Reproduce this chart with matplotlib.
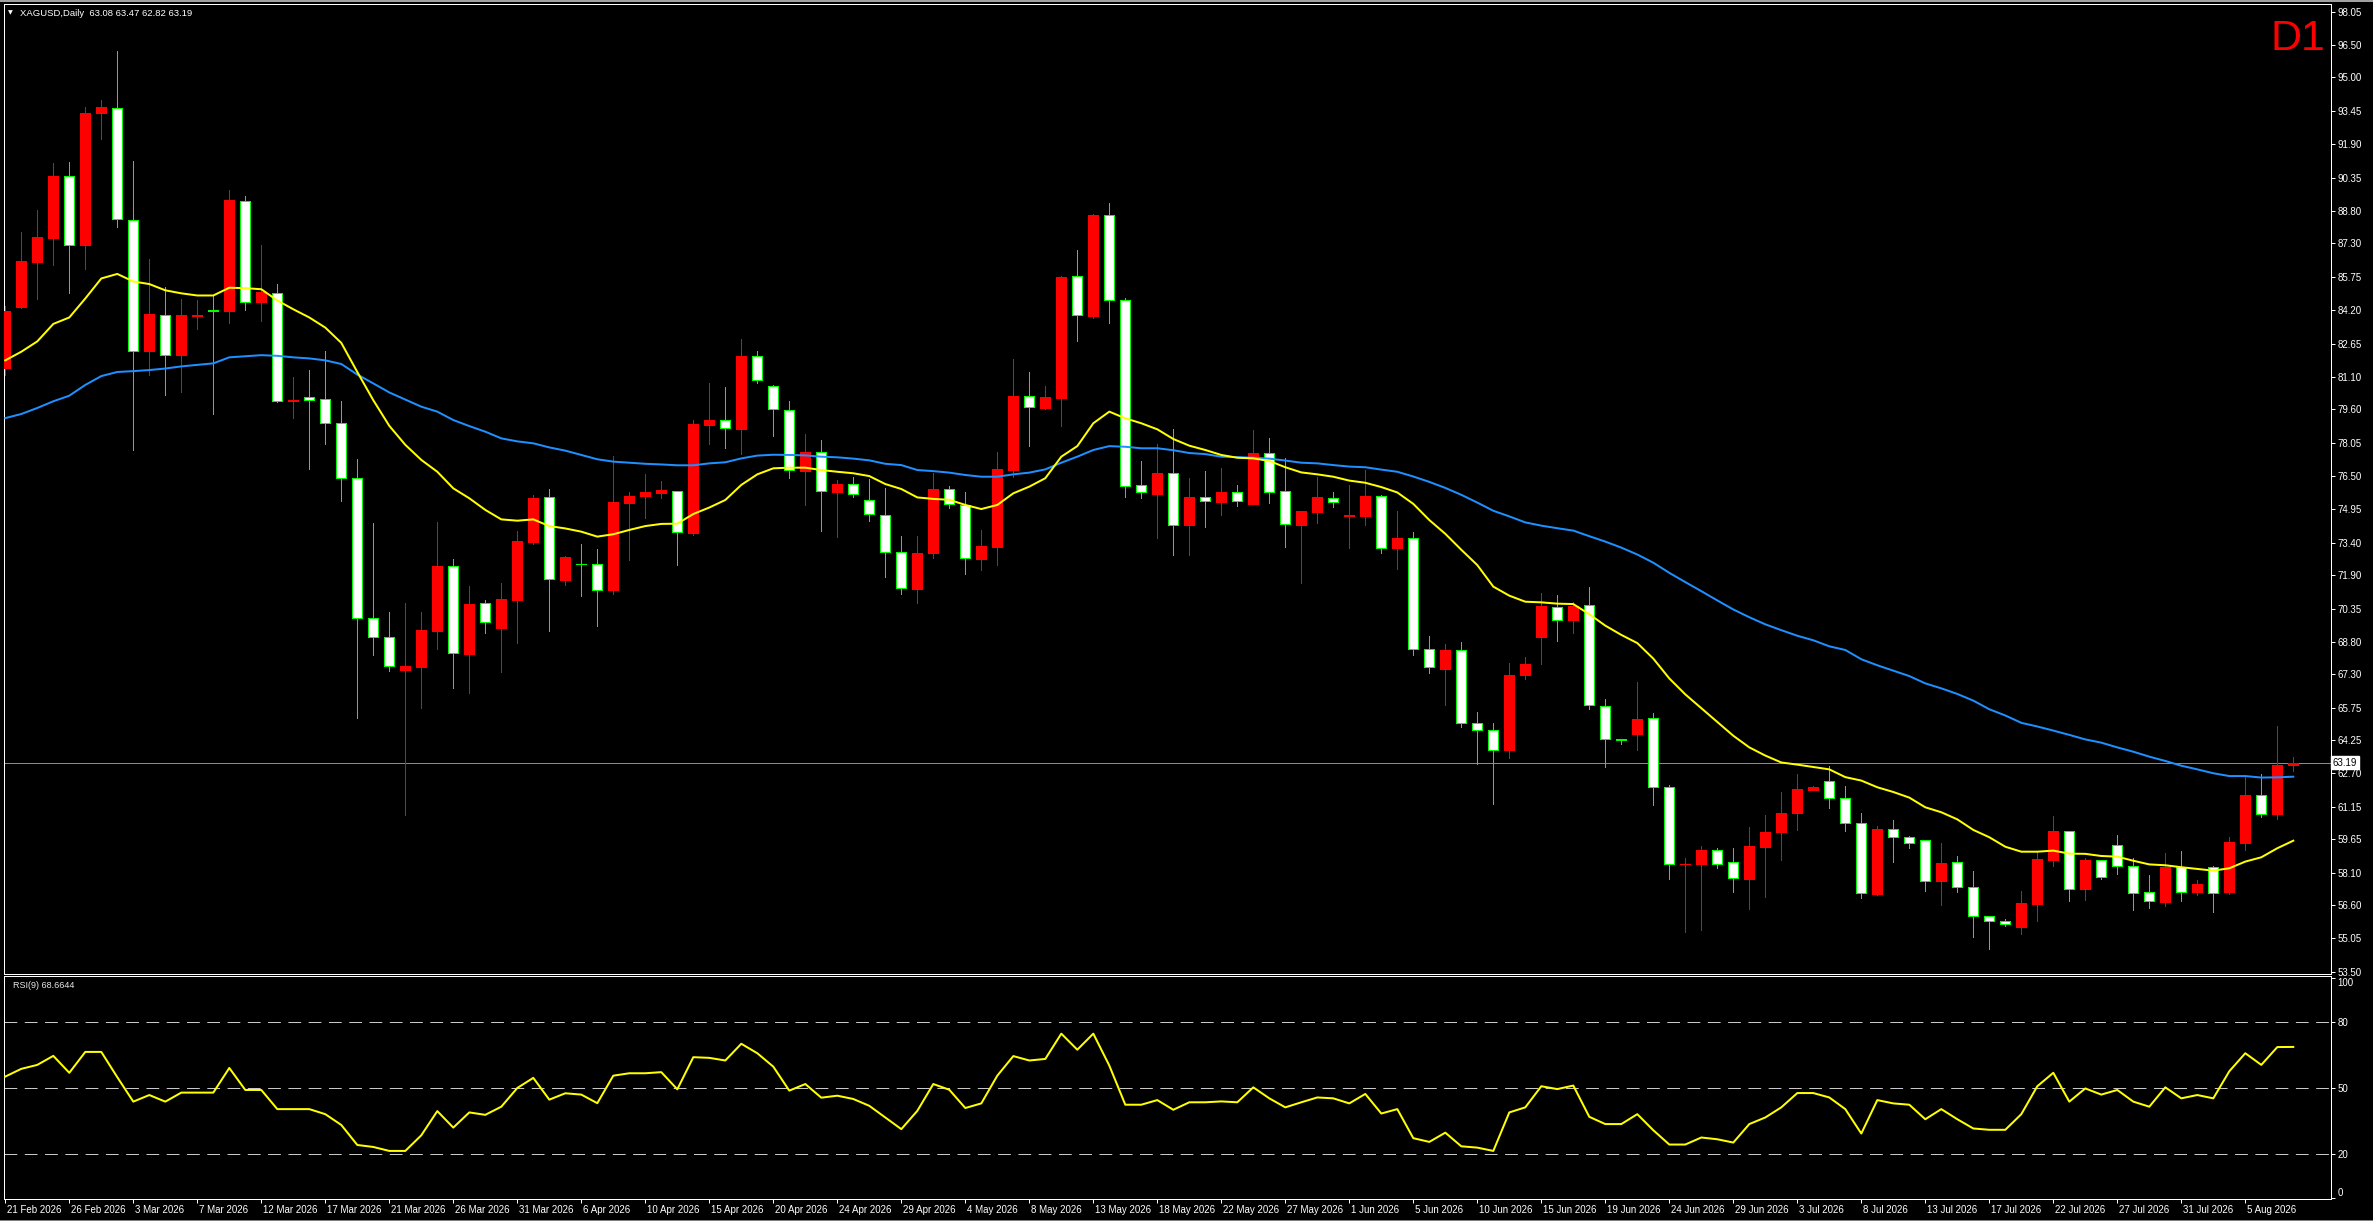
import matplotlib
matplotlib.use('Agg')
import matplotlib.pyplot as plt
from matplotlib.patches import Rectangle
import matplotlib.transforms as mtransforms

# ---------------- data ----------------
opens = [81.52, 84.36, 86.43, 87.57, 90.41, 87.23, 93.36, 93.59, 88.40, 82.30,
         83.98, 82.11, 83.94, 84.20, 84.17, 89.28, 84.58, 85.00, 79.97, 80.16,
         80.07, 78.97, 76.41, 69.90, 69.02, 67.49, 67.66, 69.33, 72.31, 68.26,
         70.59, 69.47, 70.76, 73.46, 75.51, 71.69, 72.44, 72.41, 71.23, 75.27,
         75.59, 75.71, 75.79, 73.86, 78.87, 79.09, 78.70, 82.06, 80.66, 79.57,
         76.75, 77.60, 75.78, 76.12, 75.41, 74.71, 72.96, 71.27, 72.95, 75.89,
         75.16, 72.67, 73.23, 76.78, 80.20, 79.67, 80.14, 85.77, 83.94, 88.60,
         84.65, 76.07, 75.68, 76.63, 74.24, 75.51, 75.31, 75.75, 75.22, 77.56,
         75.79, 74.24, 74.85, 75.50, 74.64, 74.66, 75.57, 73.16, 73.61, 68.49,
         67.54, 68.45, 65.02, 64.70, 63.77, 67.26, 69.01, 70.41, 69.84, 70.50,
         65.81, 64.28, 64.55, 65.28, 62.08, 58.48, 58.52, 59.14, 58.57, 57.82,
         59.31, 59.97, 60.85, 61.95, 62.34, 61.55, 60.39, 57.11, 60.11, 59.74,
         59.60, 57.71, 58.58, 57.42, 56.07, 55.86, 55.59, 56.66, 58.69, 60.02,
         57.34, 58.67, 59.37, 58.41, 57.19, 56.74, 58.36, 57.20, 58.35, 57.19,
         59.49, 61.69, 60.84, 63.08]
highs = [84.41, 87.83, 88.85, 91.03, 91.08, 93.64, 93.95, 96.23, 91.13, 86.57,
         85.29, 84.74, 84.65, 84.88, 89.77, 89.49, 87.21, 85.41, 81.11, 81.40,
         82.32, 79.97, 77.27, 74.31, 70.21, 70.59, 70.19, 74.37, 72.65, 71.40,
         70.75, 71.52, 73.95, 75.61, 75.88, 72.79, 73.35, 73.12, 77.43, 75.76,
         76.60, 76.27, 75.82, 79.10, 80.82, 80.63, 82.86, 82.30, 80.72, 79.98,
         78.45, 78.17, 76.32, 76.46, 76.38, 75.93, 73.72, 73.72, 76.66, 76.04,
         75.75, 74.00, 77.62, 81.93, 81.33, 80.68, 85.78, 86.99, 88.65, 89.17,
         84.75, 77.20, 77.99, 78.69, 76.41, 76.74, 76.87, 76.09, 78.64, 78.27,
         77.34, 74.90, 76.47, 75.76, 76.09, 76.78, 75.61, 74.89, 73.91, 69.09,
         68.71, 68.79, 65.55, 65.02, 67.83, 68.11, 71.07, 70.99, 70.65, 71.35,
         66.15, 64.32, 66.94, 65.51, 62.17, 58.78, 59.33, 59.25, 59.25, 60.23,
         60.78, 61.85, 62.68, 62.12, 63.04, 62.12, 60.85, 60.26, 60.54, 59.80,
         59.61, 59.47, 58.87, 58.17, 56.09, 55.95, 57.25, 59.04, 60.73, 60.03,
         58.78, 58.69, 59.85, 58.76, 57.99, 59.01, 59.10, 57.76, 58.42, 59.77,
         62.57, 62.68, 64.92, 63.47]
lows = [81.21, 84.32, 84.72, 86.31, 85.00, 86.12, 92.12, 88.07, 77.69, 81.18,
        80.26, 80.38, 83.34, 79.36, 83.60, 84.22, 83.70, 79.95, 79.19, 76.82,
        77.98, 75.35, 65.26, 68.21, 67.44, 60.77, 65.75, 68.48, 66.68, 66.45,
        69.20, 67.42, 68.77, 73.36, 69.31, 71.44, 70.95, 69.56, 71.04, 72.62,
        74.57, 75.50, 72.37, 73.77, 77.99, 77.82, 77.52, 80.82, 78.37, 76.43,
        75.16, 73.97, 73.69, 75.54, 74.43, 71.80, 71.04, 70.63, 72.71, 75.03,
        71.97, 72.16, 72.37, 76.47, 77.91, 79.61, 78.84, 82.78, 83.85, 83.62,
        75.55, 75.50, 73.64, 72.85, 72.85, 74.15, 74.69, 75.13, 75.20, 75.27,
        73.22, 71.55, 74.34, 75.08, 73.18, 74.24, 72.93, 72.20, 68.20, 67.34,
        65.87, 64.87, 63.13, 61.29, 63.42, 67.07, 67.77, 68.86, 69.24, 65.68,
        63.02, 64.09, 63.77, 61.25, 57.78, 55.35, 55.44, 58.31, 57.18, 56.39,
        56.95, 58.67, 60.08, 61.93, 61.10, 60.04, 56.94, 57.06, 58.59, 59.26,
        57.25, 56.60, 57.20, 55.13, 54.54, 55.64, 55.27, 55.85, 58.42, 56.78,
        56.83, 57.80, 58.04, 56.37, 56.46, 56.55, 56.78, 57.06, 56.27, 57.11,
        59.15, 60.68, 60.59, 62.82]
closes = [84.17, 86.48, 87.59, 90.41, 87.23, 93.36, 93.64, 88.44, 82.32, 84.01,
          82.13, 83.96, 83.98, 84.15, 89.30, 84.58, 85.03, 79.97, 80.02, 80.02,
          78.98, 76.42, 69.90, 69.05, 67.68, 67.70, 69.36, 72.33, 68.27, 70.56,
          69.71, 70.80, 73.49, 75.48, 71.71, 72.74, 72.41, 71.20, 75.30, 75.58,
          75.76, 75.84, 73.89, 78.92, 79.10, 78.72, 82.07, 80.94, 79.60, 76.77,
          77.60, 75.79, 76.13, 75.67, 74.72, 72.96, 71.29, 72.93, 75.90, 75.19,
          72.68, 73.26, 76.81, 80.22, 79.69, 80.17, 85.74, 83.96, 88.61, 84.65,
          76.04, 75.74, 76.63, 74.21, 75.53, 75.33, 75.76, 75.33, 77.57, 75.75,
          74.26, 74.86, 75.51, 75.28, 74.68, 75.58, 73.14, 73.63, 68.49, 67.64,
          68.45, 65.04, 64.72, 63.79, 67.28, 67.79, 70.48, 69.82, 70.48, 65.87,
          64.30, 64.23, 65.24, 62.06, 58.48, 58.52, 59.16, 58.48, 57.84, 59.33,
          60.00, 60.87, 61.98, 62.08, 61.55, 60.38, 57.17, 60.12, 59.74, 59.49,
          57.73, 58.55, 57.42, 56.07, 55.84, 55.70, 56.69, 58.73, 60.03, 57.36,
          58.69, 57.91, 58.39, 57.17, 56.77, 58.36, 57.22, 57.57, 57.17, 59.51,
          61.69, 60.84, 63.08, 63.19]
ma_fast = [81.87, 82.27, 82.75, 83.56, 83.86, 84.74, 85.67, 85.88, 85.53, 85.41,
           85.12, 84.98, 84.88, 84.88, 85.24, 85.22, 85.17, 84.65, 84.24, 83.86,
           83.39, 82.68, 81.33, 80.02, 78.83, 77.95, 77.25, 76.70, 75.93, 75.47,
           74.93, 74.49, 74.43, 74.49, 74.18, 74.07, 73.92, 73.69, 73.80, 74.00,
           74.18, 74.28, 74.29, 74.74, 75.04, 75.39, 76.09, 76.58, 76.86, 76.89,
           76.89, 76.78, 76.70, 76.63, 76.50, 76.13, 75.90, 75.51, 75.44, 75.40,
           75.16, 74.97, 75.16, 75.70, 76.01, 76.40, 77.40, 77.89, 78.95, 79.49,
           79.18, 78.95, 78.67, 78.22, 77.91, 77.71, 77.48, 77.35, 77.32, 77.20,
           76.91, 76.67, 76.58, 76.47, 76.29, 76.19, 75.99, 75.74, 75.21, 74.46,
           73.82, 73.08, 72.37, 71.37, 70.95, 70.67, 70.64, 70.58, 70.56, 70.09,
           69.56, 69.13, 68.75, 68.03, 67.11, 66.37, 65.73, 65.09, 64.45, 63.91,
           63.53, 63.21, 63.11, 63.00, 62.89, 62.53, 62.37, 62.06, 61.84, 61.58,
           61.13, 60.90, 60.57, 60.08, 59.74, 59.30, 59.07, 59.07, 59.12, 58.98,
           58.97, 58.87, 58.84, 58.65, 58.48, 58.44, 58.35, 58.27, 58.19, 58.30,
           58.61, 58.81, 59.23, 59.58]
ma_slow = [79.19, 79.38, 79.66, 79.97, 80.23, 80.73, 81.14, 81.33, 81.37, 81.42,
           81.49, 81.59, 81.66, 81.73, 82.01, 82.06, 82.11, 82.08, 82.01, 81.96,
           81.87, 81.70, 81.21, 80.80, 80.38, 80.05, 79.72, 79.49, 79.10, 78.82,
           78.56, 78.25, 78.11, 78.02, 77.83, 77.68, 77.48, 77.28, 77.17, 77.12,
           77.07, 77.04, 77.00, 77.00, 77.09, 77.14, 77.32, 77.45, 77.49, 77.48,
           77.46, 77.40, 77.37, 77.31, 77.23, 77.07, 77.01, 76.78, 76.73, 76.66,
           76.55, 76.47, 76.47, 76.58, 76.66, 76.81, 77.12, 77.40, 77.71, 77.89,
           77.86, 77.79, 77.79, 77.70, 77.57, 77.52, 77.40, 77.38, 77.35, 77.31,
           77.22, 77.12, 77.09, 77.01, 76.94, 76.91, 76.80, 76.70, 76.48, 76.23,
           75.95, 75.63, 75.27, 74.89, 74.63, 74.35, 74.20, 74.08, 73.97, 73.71,
           73.46, 73.18, 72.86, 72.48, 72.01, 71.58, 71.16, 70.73, 70.31, 69.95,
           69.62, 69.35, 69.09, 68.88, 68.60, 68.43, 68.00, 67.72, 67.47, 67.22,
           66.88, 66.65, 66.39, 66.08, 65.68, 65.39, 65.05, 64.88, 64.69, 64.49,
           64.28, 64.13, 63.91, 63.71, 63.48, 63.28, 63.06, 62.89, 62.71, 62.58,
           62.58, 62.51, 62.52, 62.55]
rsi = [55.2, 58.7, 60.5, 64.6, 56.9, 66.4, 66.4, 54.9, 43.8, 46.8,
       43.8, 47.9, 47.9, 47.9, 59.1, 49.1, 49.1, 40.4, 40.4, 40.4,
       38.1, 33.2, 24.1, 23.2, 21.4, 21.4, 28.5, 39.5, 32.0, 38.9,
       37.8, 41.5, 50.0, 54.6, 44.7, 47.6, 47.0, 43.1, 55.6, 56.7,
       56.7, 57.2, 49.4, 64.0, 63.7, 62.5, 70.1, 65.8, 59.7, 48.8,
       51.8, 45.6, 46.5, 45.0, 41.9, 36.6, 31.3, 39.6, 51.8, 49.2,
       40.9, 43.0, 55.6, 64.5, 62.5, 63.2, 74.7, 67.4, 74.7, 60.2,
       42.4, 42.4, 44.5, 40.1, 43.5, 43.5, 43.9, 43.5, 50.3, 45.3,
       41.2, 43.5, 45.7, 45.3, 43.0, 47.3, 38.4, 40.4, 27.2, 25.5,
       29.7, 23.5, 22.9, 21.4, 38.9, 41.2, 50.8, 49.5, 51.1, 36.9,
       33.6, 33.6, 38.1, 30.8, 24.3, 24.3, 27.5, 26.7, 25.2, 33.6,
       36.6, 41.2, 47.7, 47.7, 45.7, 40.4, 29.3, 44.5, 43.0, 42.4,
       35.8, 40.4, 35.8, 31.6, 31.0, 31.0, 38.1, 50.8, 56.9, 43.8,
       49.8, 47.0, 49.1, 43.8, 41.5, 50.3, 45.3, 46.8, 45.3, 57.6,
       65.8, 60.5, 68.6, 68.6644]
date_labels = ['21 Feb 2026', '26 Feb 2026', '3 Mar 2026', '7 Mar 2026', '12 Mar 2026',
               '17 Mar 2026', '21 Mar 2026', '26 Mar 2026', '31 Mar 2026', '6 Apr 2026',
               '10 Apr 2026', '15 Apr 2026', '20 Apr 2026', '24 Apr 2026', '29 Apr 2026',
               '4 May 2026', '8 May 2026', '13 May 2026', '18 May 2026', '22 May 2026',
               '27 May 2026', '1 Jun 2026', '5 Jun 2026', '10 Jun 2026', '15 Jun 2026',
               '19 Jun 2026', '24 Jun 2026', '29 Jun 2026', '3 Jul 2026', '8 Jul 2026',
               '13 Jul 2026', '17 Jul 2026', '22 Jul 2026', '27 Jul 2026', '31 Jul 2026',
               '5 Aug 2026']
label_every = 4
price_ticks = [98.05, 96.50, 95.00, 93.45, 91.90, 90.35, 88.80, 87.30, 85.75, 84.20,
               82.65, 81.10, 79.60, 78.05, 76.50, 74.95, 73.40, 71.90, 70.35, 68.80,
               67.30, 65.75, 64.25, 62.70, 61.15, 59.65, 58.10, 56.60, 55.05, 53.50]
rsi_ticks = [0, 20, 50, 80, 100]
rsi_levels = [20, 50, 80]
symbol = 'XAGUSD,Daily'
timeframe = 'D1'
rsi_period = 9

# ---------------- figure ----------------
W, H = 2373, 1221
DPI = 100
PX = 72.0 / DPI  # one pixel in points
FONT = ['Liberation Sans', 'DejaVu Sans']
plt.rcParams['font.family'] = FONT
plt.rcParams['lines.scale_dashes'] = False

fig = plt.figure(figsize=(W / DPI, H / DPI), dpi=DPI, facecolor='black')

def fx(px):
    return px / W

def fy(py):
    return 1 - py / H

left_px, right_px = 4, 2331
main_top, main_bot = 4, 974
rsi_top, rsi_bot = 976, 1199

ax = fig.add_axes([fx(left_px), fy(main_bot), (right_px - left_px) / W, (main_bot - main_top) / H])
ax2 = fig.add_axes([fx(left_px), fy(rsi_bot), (right_px - left_px) / W, (rsi_bot - rsi_top) / H],
                   sharex=ax)

n = len(closes)
xs = list(range(n))
bar_px = 16.0
x0_px = 5.3
xlim = ((left_px - x0_px) / bar_px, (right_px - x0_px) / bar_px)

for a in (ax, ax2):
    a.set_facecolor('black')
    for s in a.spines.values():
        s.set_color('white')
        s.set_linewidth(PX)

# price line (behind candles)
ax.axhline(closes[-1], color='#8a8a8a', lw=PX, zorder=1)

# candles
bw = 0.62
bull_col, bear_face, bear_edge = '#ff0000', '#ffffff', '#00ff00'
for i in xs:
    o, h, l, c = opens[i], highs[i], lows[i], closes[i]
    up = c >= o
    wick_col = bull_col if up else bear_edge
    ax.vlines(i, l, h, colors=wick_col, lw=PX, zorder=2, antialiased=False)
    lo, hi = min(o, c), max(o, c)
    ax.add_patch(Rectangle((i - bw / 2, lo), bw, hi - lo,
                           facecolor=bull_col if up else bear_face,
                           edgecolor=bull_col if up else bear_edge,
                           lw=PX, zorder=3, antialiased=False))

# moving averages
ax.plot(xs, ma_slow, color='#1e90ff', lw=2 * PX, zorder=4)
ax.plot(xs, ma_fast, color='#ffff00', lw=2 * PX, zorder=5)

ax.set_xlim(*xlim)
ax.set_ylim(98.05 - (main_bot - 11.67) / 21.55, 98.05 + (11.67 - main_top) / 21.55)

ax.yaxis.tick_right()
ax.set_yticks(price_ticks)
ax.set_yticklabels(['%.2f' % v for v in price_ticks])
ax.tick_params(axis='y', colors='white', labelcolor='white', labelsize=7,
               length=3, width=PX, pad=1.5, direction='out')
ax.tick_params(axis='x', bottom=False, labelbottom=False)

# current price box
ax.text(1.0008, closes[-1], '%.2f' % closes[-1], transform=ax.get_yaxis_transform(),
        ha='left', va='center', fontsize=7, color='black',
        bbox=dict(boxstyle='square,pad=0.15', facecolor='white', edgecolor='white'),
        zorder=10, clip_on=False)

# header and timeframe
fig.text(fx(8), fy(13), '\u25bc', color='white', fontsize=4.5, ha='left', va='center',
         family=['DejaVu Sans'])
fig.text(fx(20), fy(13), '%s  %.2f %.2f %.2f %.2f' % (symbol, opens[-1], highs[-1], lows[-1], closes[-1]),
         color='white', fontsize=6.8, ha='left', va='center')
fig.text(fx(2270), fy(50), timeframe, color='#ff0000', fontsize=31, ha='left', va='baseline')

# RSI panel
for lv in rsi_levels:
    ax2.axhline(lv, color='#c8c8c8', lw=PX, ls=(0, (9.2, 5.4)), zorder=1)
ax2.plot(xs, rsi, color='#ffff00', lw=2 * PX, zorder=3)
ax2.set_ylim(-0.45, 100.9)
ax2.yaxis.tick_right()
ax2.set_yticks(rsi_ticks)
ax2.set_yticklabels([str(v) for v in rsi_ticks])
ax2.tick_params(axis='y', colors='white', labelcolor='white', labelsize=7,
                length=3, width=PX, pad=1.5)
ylabs = ax2.get_yticklabels()
ylabs[0].set_verticalalignment('bottom')
ylabs[-1].set_verticalalignment('top')
ax2.text(9 / (right_px - left_px), 1 - 10 / (rsi_bot - rsi_top),
         'RSI(%d) %.4f' % (rsi_period, rsi[-1]), transform=ax2.transAxes,
         color='#e8e8e8', fontsize=6.5, ha='left', va='center')

tick_pos = list(range(0, n, label_every))[:len(date_labels)]
ax2.set_xticks(tick_pos)
ax2.set_xticklabels(date_labels[:len(tick_pos)])
ax2.tick_params(axis='x', colors='white', labelcolor='white', labelsize=7,
                length=3, width=PX, pad=1.0)
offset = mtransforms.ScaledTranslation(2 / DPI, 0, fig.dpi_scale_trans)
for lab in ax2.get_xticklabels():
    lab.set_horizontalalignment('left')
    lab.set_transform(lab.get_transform() + offset)
ax2.set_xlim(*xlim)

# thin grey window edges
fig.add_artist(Rectangle((0, fy(2)), 1, 2 / H, transform=fig.transFigure,
                         facecolor='#a0a0a0', edgecolor='none'))
fig.add_artist(Rectangle((0, 0), 1, 1.5 / H, transform=fig.transFigure,
                         facecolor='#808080', edgecolor='none'))

fig.savefig('out.png', dpi=DPI, facecolor='black')
